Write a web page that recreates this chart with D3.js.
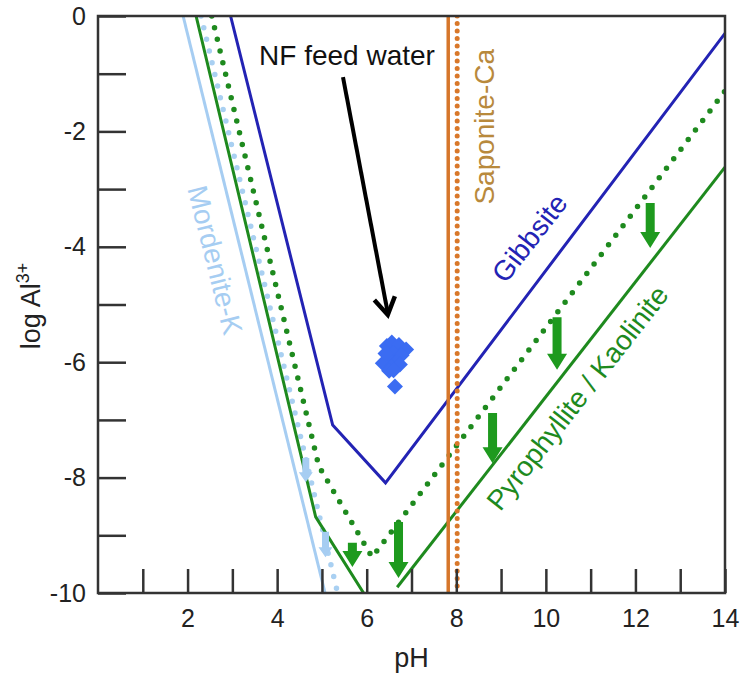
<!DOCTYPE html>
<html>
<head>
<meta charset="utf-8">
<title>log Al3+ vs pH</title>
<style type="text/css">
    body { margin: 0; background: #fff; }
    text { font-family: "Liberation Sans", Arial, Helvetica, sans-serif; }
    .axis path { display: none; }
    .axis line { stroke: #333; stroke-width: 2.5px; }
    .axis text { font-size: 25px; fill: #222; }
</style>
</head>
<body>
<div id="chart"></div>
<script src="https://cdn.jsdelivr.net/npm/d3@7"></script>
<script>

    // axis ticks
    var pHTicks = d3.range(1, 15);
    var logTicks = d3.range(0, -11, -1);

    // stability lines, [pH, log Al3+]
    var gibbsite = [[2.96, 0], [5.24, -7.09], [6.42, -8.09], [14, -0.3]];
    var kaolLeft = [[2.19, 0], [4.86, -8.68], [5.93, -10]];
    var kaolRight = [[6.68, -9.9], [14, -2.62]];
    var kaolDotted = [[2.54, 0], [4.93, -7.8], [6.12, -9.38], [14, -1.3]];
    var mordenite = [[1.9, 0], [5.07, -10]];
    var mordDotted = [[2.3, 0], [5.35, -10]];
    var saponite = [[7.82, 0], [7.82, -10]];
    var saponiteDotted = [[8.02, 0], [8.02, -10]];

    // NF feed water samples
    var feedWater = [
        [6.45, -5.72], [6.56, -5.66], [6.72, -5.7], [6.88, -5.78],
        [6.6, -5.84], [6.78, -5.88], [6.48, -5.94], [6.66, -6.0],
        [6.36, -6.02], [6.55, -6.08], [6.74, -6.04], [6.5, -6.15],
        [6.6, -6.14], [6.42, -5.85], [6.63, -6.42]
    ];

    // shift arrows, [pH, from, to]
    var kaolArrows = [[5.68, -9.13, -9.55], [6.71, -8.77, -9.74], [8.81, -6.88, -7.75],
                      [10.25, -5.22, -6.13], [12.33, -3.24, -4.02]];
    var mordArrows = [[4.64, -7.66, -8.08], [5.08, -8.94, -9.38]];

    var width = 742, height = 675;
    var mLeft = 98, mTop = 16, mRight = 725, mBottom = 593;

    var svg = d3.select("#chart").append("svg")
        .attr("width", width)
        .attr("height", height);

    var x = d3.scaleLinear().domain([0, 14]).range([mLeft, mRight]);
    var y = d3.scaleLinear().domain([0, -10]).range([mTop, mBottom]);

    var line = d3.line().x(d => x(d[0])).y(d => y(d[1]));

    svg.append("clipPath").attr("id", "clip")
        .append("rect").attr("x", mLeft).attr("y", mTop)
        .attr("width", mRight - mLeft).attr("height", mBottom - mTop);
    var plot = svg.append("g").attr("clip-path", "url(#clip)");

    function drawLine(data, color, w, dash) {
        var p = plot.append("path")
            .attr("d", line(data))
            .attr("fill", "none")
            .attr("stroke", color)
            .attr("stroke-width", w)
            .attr("stroke-linejoin", "miter");
        if (dash) {
            p.attr("stroke-dasharray", dash).attr("stroke-linecap", "round");
        }
        return p;
    }

    drawLine(mordenite, "#a6cdf2", 3);
    drawLine(mordDotted, "#a9d0f2", 5.5, "0 12");
    drawLine(kaolLeft, "#1e8a1e", 3);
    drawLine(kaolRight, "#1e8a1e", 3);
    drawLine(kaolDotted, "#1e8a1e", 5.5, "0 12");
    drawLine(gibbsite, "#2323b4", 3);
    drawLine(saponite, "#d6762a", 3.5);
    drawLine(saponiteDotted, "#d9782a", 5, "0 7.5");

    //  block arrows pointing down
    function blockArrow(d, shaft, headW, headL) {
        var cx = x(d[0]), y1 = y(d[1]), y2 = y(d[2]);
        var yh = y2 - headL;
        return "M" + (cx - shaft / 2) + "," + y1 +
            "L" + (cx + shaft / 2) + "," + y1 +
            "L" + (cx + shaft / 2) + "," + yh +
            "L" + (cx + headW / 2) + "," + yh +
            "L" + cx + "," + y2 +
            "L" + (cx - headW / 2) + "," + yh +
            "L" + (cx - shaft / 2) + "," + yh + "Z";
    }

    plot.selectAll(".karrow")
        .data(kaolArrows)
        .enter().append("path")
        .attr("class", "karrow")
        .attr("d", d => blockArrow(d, 9, 20, 16))
        .attr("fill", "#1e9a1e");

    plot.selectAll(".marrow")
        .data(mordArrows)
        .enter().append("path")
        .attr("class", "marrow")
        .attr("d", d => blockArrow(d, 7, 14, 10))
        .attr("fill", "#a6cdf2");

    // feed water diamonds
    plot.selectAll(".fw")
        .data(feedWater)
        .enter().append("path")
        .attr("class", "fw")
        .attr("d", d => {
            var cx = x(d[0]), cy = y(d[1]), r = 8;
            return "M" + cx + "," + (cy - r) + "L" + (cx + r) + "," + cy +
                "L" + cx + "," + (cy + r) + "L" + (cx - r) + "," + cy + "Z";
        })
        .attr("fill", "#3b6cf2");

    // black pointer arrow
    var ax1 = x(5.47), ay1 = y(-1.06), ax2 = x(6.47), ay2 = y(-5.18);
    svg.append("line")
        .attr("x1", ax1).attr("y1", ay1).attr("x2", ax2).attr("y2", ay2 - 2)
        .attr("stroke", "#000").attr("stroke-width", 4);
    var ang = Math.atan2(ay2 - ay1, ax2 - ax1);
    var hl = 20, spread = 0.55;
    svg.append("path")
        .attr("d", "M" + (ax2 - hl * Math.cos(ang - spread)) + "," + (ay2 - hl * Math.sin(ang - spread)) +
            "L" + ax2 + "," + ay2 +
            "L" + (ax2 - hl * Math.cos(ang + spread)) + "," + (ay2 - hl * Math.sin(ang + spread)))
        .attr("fill", "none").attr("stroke", "#000").attr("stroke-width", 4.5)
        .attr("stroke-linejoin", "miter");

    // axes
    svg.append("g")
        .attr("class", "axis")
        .attr("transform", "translate(0," + mBottom + ")")
        .call(d3.axisBottom(x).tickValues(pHTicks).tickSize(-24).tickPadding(16)
            .tickFormat(d => d % 2 === 0 ? d : ""));

    svg.append("g")
        .attr("class", "axis")
        .attr("transform", "translate(" + mLeft + ",0)")
        .call(d3.axisLeft(y).tickValues(logTicks).tickSize(-28).tickPadding(12)
            .tickFormat(d => d % 2 === 0 ? String(d) : ""));

    svg.append("rect")
        .attr("x", mLeft).attr("y", mTop)
        .attr("width", mRight - mLeft).attr("height", mBottom - mTop)
        .attr("fill", "none").attr("stroke", "#333").attr("stroke-width", 2.5);

    // axis titles
    svg.append("text")
        .attr("x", (mLeft + mRight) / 2).attr("y", 667)
        .attr("text-anchor", "middle")
        .attr("font-size", 27).attr("fill", "#222")
        .text("pH");

    var yt = svg.append("text")
        .attr("transform", "translate(40,306) rotate(-90)")
        .attr("text-anchor", "middle")
        .attr("font-size", 27).attr("fill", "#222");
    yt.append("tspan").text("log Al");
    yt.append("tspan").attr("dy", -11).attr("font-size", 18).text("3+");

    // curve labels
    function label(txt, px, py, rot, color, size) {
        svg.append("text")
            .attr("transform", "translate(" + x(px) + "," + y(py) + ") rotate(" + rot + ")")
            .attr("text-anchor", "middle")
            .attr("dominant-baseline", "central")
            .attr("font-size", size)
            .attr("fill", color)
            .text(txt);
    }

    label("NF feed water", 5.56, -0.68, 0, "#111", 28);
    label("Saponite-Ca", 8.64, -1.92, -90, "#b8893c", 28);
    label("Gibbsite", 9.64, -3.85, -52, "#2323b4", 28);
    label("Pyrophyllite / Kaolinite", 10.71, -6.62, -52, "#1e8a1e", 28);
    label("Mordenite-K", 2.61, -4.23, 76, "#a6cdf2", 28);

</script>
</body>
</html>
